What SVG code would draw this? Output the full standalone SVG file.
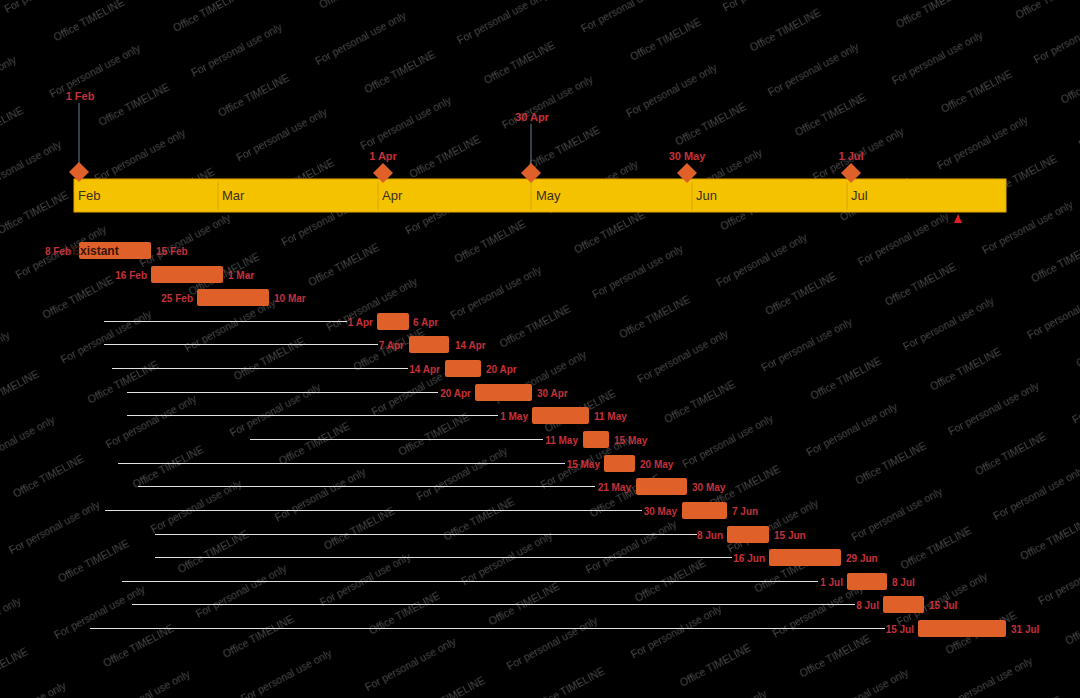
<svg xmlns="http://www.w3.org/2000/svg" width="1080" height="698" viewBox="0 0 1080 698">
<style>
.wm{font-family:"Liberation Sans",Arial,sans-serif;font-size:10.5px;fill:#7a7a7a;fill-opacity:0.6}
.band{fill:#f5c200;stroke:#e2a400;stroke-width:1}
.div{stroke:#d8a600;stroke-width:1}
.mon{font-family:"Liberation Sans",Arial,sans-serif;font-size:13px;fill:#3a3020}
.ms{fill:#e0602a}
.stem{stroke:#6a7d99;stroke-width:1}
.mlab{font-family:"Liberation Sans",Arial,sans-serif;font-size:11px;font-weight:bold;fill:#c5303a;text-anchor:middle}
.bar{fill:#e0602a}
.lab{font-family:"Liberation Sans",Arial,sans-serif;font-size:10px;font-weight:bold;fill:#c5303a}
.end{text-anchor:end}
.ln{stroke:#e0e0e0;stroke-width:1.2}
.btxt{font-family:"Liberation Sans",Arial,sans-serif;font-size:12px;font-weight:bold;fill:#3a1408}
</style>
<defs>
<pattern id="wmp" patternUnits="userSpaceOnUse" width="250" height="96" patternTransform="rotate(-28)">
<text class="wm" x="0" y="15">For personal use only</text>
<text class="wm" x="140" y="15">Office TIMELINE</text>
<text class="wm" x="30" y="63">Office TIMELINE</text>
<text class="wm" x="135" y="63">For personal use only</text>
</pattern>
</defs>
<rect x="0" y="0" width="1080" height="698" fill="#000"/>
<rect x="0" y="0" width="1080" height="698" fill="url(#wmp)"/>

<g id="timescale">
<rect class="band" x="74" y="179" width="932" height="33"/>
<line class="div" x1="218" y1="182" x2="218" y2="210"/>
<line class="div" x1="378" y1="182" x2="378" y2="210"/>
<line class="div" x1="531" y1="182" x2="531" y2="210"/>
<line class="div" x1="692" y1="182" x2="692" y2="210"/>
<line class="div" x1="847" y1="182" x2="847" y2="210"/>
<text class="mon" x="78" y="200">Feb</text>
<text class="mon" x="222" y="200">Mar</text>
<text class="mon" x="382" y="200">Apr</text>
<text class="mon" x="536" y="200">May</text>
<text class="mon" x="696" y="200">Jun</text>
<text class="mon" x="851" y="200">Jul</text>
</g>
<g id="today"><polygon points="958,214 962,223 954,223" fill="#e02020"/></g>

<g id="milestones">
<g id="m1"><line class="stem" x1="79" y1="103" x2="79" y2="165"/><polygon class="ms" points="79,162 89,172 79,182 69,172"/><text class="mlab" x="80" y="100">1 Feb</text></g>
<g id="m2"><polygon class="ms" points="383,163 393,173 383,183 373,173"/><text class="mlab" x="383" y="160">1 Apr</text></g>
<g id="m3"><line class="stem" x1="531" y1="124" x2="531" y2="165"/><polygon class="ms" points="531,163 541,173 531,183 521,173"/><text class="mlab" x="532" y="121">30 Apr</text></g>
<g id="m4"><polygon class="ms" points="687,163 697,173 687,183 677,173"/><text class="mlab" x="687" y="160">30 May</text></g>
<g id="m5"><polygon class="ms" points="851,163 861,173 851,183 841,173"/><text class="mlab" x="851" y="160">1 Jul</text></g>
</g>

<g id="connectors">
<line class="ln" x1="104" y1="321.5" x2="347" y2="321.5"/>
<line class="ln" x1="104" y1="344.5" x2="378" y2="344.5"/>
<line class="ln" x1="112" y1="368.5" x2="408" y2="368.5"/>
<line class="ln" x1="127" y1="392.5" x2="438" y2="392.5"/>
<line class="ln" x1="127" y1="415.5" x2="498" y2="415.5"/>
<line class="ln" x1="250" y1="439.5" x2="543" y2="439.5"/>
<line class="ln" x1="118" y1="463.5" x2="565" y2="463.5"/>
<line class="ln" x1="138" y1="486.5" x2="595" y2="486.5"/>
<line class="ln" x1="105" y1="510.5" x2="642" y2="510.5"/>
<line class="ln" x1="155" y1="534.5" x2="697" y2="534.5"/>
<line class="ln" x1="155" y1="557.5" x2="732" y2="557.5"/>
<line class="ln" x1="122" y1="581.5" x2="818" y2="581.5"/>
<line class="ln" x1="132" y1="604.5" x2="855" y2="604.5"/>
<line class="ln" x1="90" y1="628.5" x2="885" y2="628.5"/>
</g>

<g id="tasks">
<g id="t1"><text class="lab end" x="71" y="254.5">8 Feb</text><rect class="bar" x="79" y="242" width="72" height="17" rx="2"/><text class="btxt" x="72" y="255">Existant</text><text class="lab" x="156" y="254.5">15 Feb</text></g>
<g id="t2"><text class="lab end" x="147" y="278.5">16 Feb</text><rect class="bar" x="151" y="266" width="72" height="17" rx="2"/><text class="lab" x="228" y="278.5">1 Mar</text></g>
<g id="t3"><text class="lab end" x="193" y="301.5">25 Feb</text><rect class="bar" x="197" y="289" width="72" height="17" rx="2"/><text class="lab" x="274" y="301.5">10 Mar</text></g>
<g id="t4"><text class="lab end" x="373" y="325.5">1 Apr</text><rect class="bar" x="377" y="313" width="32" height="17" rx="2"/><text class="lab" x="413" y="325.5">6 Apr</text></g>
<g id="t5"><text class="lab end" x="404" y="348.5">7 Apr</text><rect class="bar" x="409" y="336" width="40" height="17" rx="2"/><text class="lab" x="455" y="348.5">14 Apr</text></g>
<g id="t6"><text class="lab end" x="440" y="372.5">14 Apr</text><rect class="bar" x="445" y="360" width="36" height="17" rx="2"/><text class="lab" x="486" y="372.5">20 Apr</text></g>
<g id="t7"><text class="lab end" x="471" y="396.5">20 Apr</text><rect class="bar" x="475" y="384" width="57" height="17" rx="2"/><text class="lab" x="537" y="396.5">30 Apr</text></g>
<g id="t8"><text class="lab end" x="528" y="419.5">1 May</text><rect class="bar" x="532" y="407" width="57" height="17" rx="2"/><text class="lab" x="594" y="419.5">11 May</text></g>
<g id="t9"><text class="lab end" x="578" y="443.5">11 May</text><rect class="bar" x="583" y="431" width="26" height="17" rx="2"/><text class="lab" x="614" y="443.5">15 May</text></g>
<g id="t10"><text class="lab end" x="600" y="467.5">15 May</text><rect class="bar" x="604" y="455" width="31" height="17" rx="2"/><text class="lab" x="640" y="467.5">20 May</text></g>
<g id="t11"><text class="lab end" x="631" y="490.5">21 May</text><rect class="bar" x="636" y="478" width="51" height="17" rx="2"/><text class="lab" x="692" y="490.5">30 May</text></g>
<g id="t12"><text class="lab end" x="677" y="514.5">30 May</text><rect class="bar" x="682" y="502" width="45" height="17" rx="2"/><text class="lab" x="732" y="514.5">7 Jun</text></g>
<g id="t13"><text class="lab end" x="723" y="538.5">8 Jun</text><rect class="bar" x="727" y="526" width="42" height="17" rx="2"/><text class="lab" x="774" y="538.5">15 Jun</text></g>
<g id="t14"><text class="lab end" x="765" y="561.5">16 Jun</text><rect class="bar" x="769" y="549" width="72" height="17" rx="2"/><text class="lab" x="846" y="561.5">29 Jun</text></g>
<g id="t15"><text class="lab end" x="843" y="585.5">1 Jul</text><rect class="bar" x="847" y="573" width="40" height="17" rx="2"/><text class="lab" x="892" y="585.5">8 Jul</text></g>
<g id="t16"><text class="lab end" x="879" y="608.5">8 Jul</text><rect class="bar" x="883" y="596" width="41" height="17" rx="2"/><text class="lab" x="929" y="608.5">15 Jul</text></g>
<g id="t17"><text class="lab end" x="914" y="632.5">15 Jul</text><rect class="bar" x="918" y="620" width="88" height="17" rx="2"/><text class="lab" x="1011" y="632.5">31 Jul</text></g>
</g>
</svg>
